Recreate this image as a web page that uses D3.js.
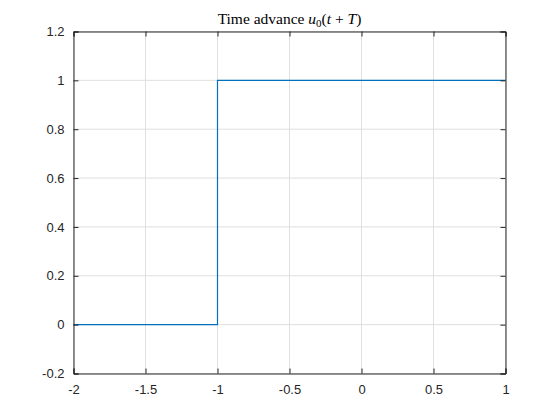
<!DOCTYPE html>
<html>
<head>
<meta charset="utf-8">
<script src="https://cdn.jsdelivr.net/npm/d3@7"></script>
<style>
  body { margin: 0; background: #fff; }
  svg { display: block; }
  .tick text { font-family: "Liberation Sans", Arial, sans-serif; font-size: 13px; fill: #262626; }
</style>
</head>
<body>
<div id="chart"></div>
<script>
// step signal u0(t+T), sampled at the corners
var stepT = [-2, -1, -1, 1];
var stepU = [0, 0, 1, 1];
var xTicks = [-2, -1.5, -1, -0.5, 0, 0.5, 1];
var yTicks = [-0.2, 0, 0.2, 0.4, 0.6, 0.8, 1, 1.2];

var margin = { top: 31.5, right: 54.5, bottom: 46.5, left: 73.5 };
var width = 560 - margin.left - margin.right;
var height = 420 - margin.top - margin.bottom;

var svg = d3.select("#chart")
    .append("svg")
    .attr("width", 560)
    .attr("height", 420);

var g = svg.append("g")
    .attr("transform", "translate(" + margin.left + "," + margin.top + ")");

var x = d3.scaleLinear().domain([-2, 1]).range([0, width]);
var y = d3.scaleLinear().domain([-0.2, 1.2]).range([height, 0]);

// grid
g.append("g").selectAll("line")
    .data(xTicks)
    .enter().append("line")
    .attr("x1", function(d){ return x(d); })
    .attr("x2", function(d){ return x(d); })
    .attr("y1", 0).attr("y2", height)
    .style("stroke", "#dfdfdf").style("stroke-width", 1);
g.append("g").selectAll("line")
    .data(yTicks)
    .enter().append("line")
    .attr("y1", function(d){ return y(d); })
    .attr("y2", function(d){ return y(d); })
    .attr("x1", 0).attr("x2", width)
    .style("stroke", "#dfdfdf").style("stroke-width", 1);

// step line
var pts = stepT.map(function(t, i){ return [t, stepU[i]]; });
g.append("path")
    .datum(pts)
    .attr("d", d3.line().x(function(d){ return x(d[0]); }).y(function(d){ return y(d[1]); }))
    .style("fill", "none")
    .style("stroke", "#0072bd")
    .style("stroke-width", 1.2);

// axes, ticks pointing in; plain hyphen for minus like matlab
var fmt = function(d){ return String(+d.toFixed(1)); };
var xAxis = g.append("g").attr("transform", "translate(0," + height + ")")
    .call(d3.axisBottom(x).tickValues(xTicks).tickSize(-5).tickPadding(9).tickFormat(fmt));
var xTop = g.append("g")
    .call(d3.axisTop(x).tickValues(xTicks).tickSize(-5).tickFormat(""));
var yAxis = g.append("g")
    .call(d3.axisLeft(y).tickValues(yTicks).tickSize(-5).tickPadding(9).tickFormat(fmt));
var yRight = g.append("g").attr("transform", "translate(" + width + ",0)")
    .call(d3.axisRight(y).tickValues(yTicks).tickSize(-5).tickFormat(""));

[xAxis, xTop, yAxis, yRight].forEach(function(a){
    a.select(".domain").style("stroke", "#262626").style("stroke-width", 1);
    a.selectAll(".tick line").style("stroke", "#262626");
});
xAxis.selectAll(".tick text").attr("dy", "0.9em");

// title
var title = svg.append("text")
    .attr("x", margin.left + width / 2)
    .attr("y", 24)
    .attr("text-anchor", "middle")
    .style("font-family", "'Liberation Serif', 'DejaVu Serif', serif")
    .style("font-size", "15.5px")
    .style("fill", "#000");
title.append("tspan").text("Time advance ");
title.append("tspan").style("font-style", "italic").text("u");
title.append("tspan").attr("dy", 3).style("font-size", "11px").text("0");
title.append("tspan").attr("dy", -3).text("(");
title.append("tspan").style("font-style", "italic").text("t");
title.append("tspan").text(" + ");
title.append("tspan").style("font-style", "italic").text("T");
title.append("tspan").text(")");
</script>
</body>
</html>
